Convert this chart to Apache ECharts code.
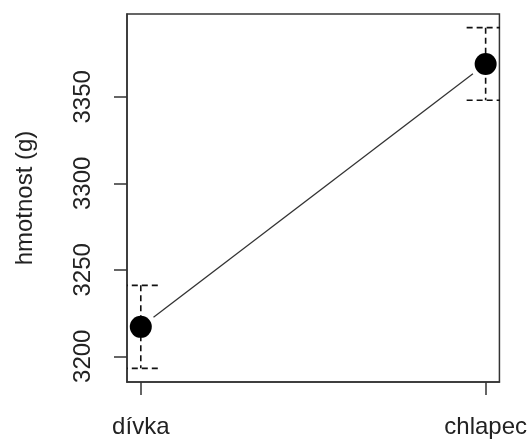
<!DOCTYPE html>
<html>
<head>
<meta charset="utf-8">
<script src="https://cdn.jsdelivr.net/npm/echarts@6/dist/echarts.min.js"></script>
<style>
html,body{margin:0;padding:0;background:#fff;}
#chart{width:530px;height:441px;}
</style>
</head>
<body>
<div id="chart"></div>
<script>
const categories = ['dívka', 'chlapec'];
const means = [3217, 3369];
const lower = [3193, 3348];
const upper = [3241, 3390];
const yTicks = [3200, 3250, 3300, 3350];
const xPositions = [1, 2];
const yTitle = 'hmotnost (g)';

const lo = Math.min.apply(null, lower), hi = Math.max.apply(null, upper);
const pad = (hi - lo) * 0.04;
const yMin = lo - pad, yMax = hi + pad;
const xMin = 1 - 0.04, xMax = 2 + 0.04;

const FONT = 'Liberation Sans';
const INK = '#222';

const chart = echarts.init(document.getElementById('chart'), null, {renderer: 'canvas'});

const ciData = xPositions.map((x, i) => [x, lower[i], upper[i]]);
const ptData = xPositions.map((x, i) => [x, means[i]]);

chart.setOption({
  animation: false,
  backgroundColor: '#fff',
  grid: {left: 127, right: 28, top: 14, bottom: 59, show: true, borderColor: '#333', borderWidth: 1.5, backgroundColor: 'transparent'},
  xAxis: {
    type: 'value', min: xMin, max: xMax,
    axisLine: {show: true, lineStyle: {color: '#333', width: 1.5}},
    axisTick: {show: true, length: 13, lineStyle: {color: '#333', width: 1.5}, customValues: xPositions},
    axisLabel: {
      show: true, customValues: xPositions, margin: 33,
      formatter: v => categories[xPositions.indexOf(Math.round(v))] || '',
      fontFamily: FONT, fontSize: 24, color: INK
    },
    splitLine: {show: false}
  },
  yAxis: {
    type: 'value', min: yMin, max: yMax,
    name: yTitle, nameLocation: 'middle', nameRotate: 90, nameGap: 90,
    nameTextStyle: {fontFamily: FONT, fontSize: 24, color: INK},
    axisLine: {show: true, lineStyle: {color: '#333', width: 1.5}},
    axisTick: {show: true, length: 13, lineStyle: {color: '#333', width: 1.5}, customValues: yTicks},
    axisLabel: {show: true, customValues: yTicks, rotate: 90, margin: 32, formatter: v => String(Math.round(v)), fontFamily: FONT, fontSize: 24, color: INK},
    splitLine: {show: false}
  },
  series: [
    {
      type: 'custom',
      clip: true,
      data: ciData,
      renderItem: function (params, api) {
        const x = api.value(0);
        const top = api.coord([x, api.value(2)]);
        const bot = api.coord([x, api.value(1)]);
        const hw = 19;
        const style = {stroke: '#111', lineWidth: 1.6, lineDash: [6, 4], fill: null};
        return {
          type: 'group',
          children: [
            {type: 'line', shape: {x1: top[0], y1: top[1], x2: bot[0], y2: bot[1]}, style: style},
            {type: 'line', shape: {x1: top[0] - hw, y1: top[1], x2: top[0] + hw, y2: top[1]}, style: style},
            {type: 'line', shape: {x1: bot[0] - hw, y1: bot[1], x2: bot[0] + hw, y2: bot[1]}, style: style}
          ]
        };
      },
      z: 2
    },
    {
      type: 'custom',
      data: ptData.slice(0, 1),
      renderItem: function (params, api) {
        const a = api.coord(ptData[0]);
        const b = api.coord(ptData[1]);
        const dx = b[0] - a[0], dy = b[1] - a[1];
        const len = Math.sqrt(dx * dx + dy * dy);
        const g = 16;
        const ux = dx / len, uy = dy / len;
        return {
          type: 'line',
          shape: {x1: a[0] + ux * g, y1: a[1] + uy * g, x2: b[0] - ux * g, y2: b[1] - uy * g},
          style: {stroke: '#333', lineWidth: 1.3}
        };
      },
      z: 3
    },
    {
      type: 'scatter',
      data: ptData,
      symbol: 'circle',
      symbolSize: 22,
      itemStyle: {color: '#000', opacity: 1},
      z: 4
    }
  ]
});
</script>
</body>
</html>
